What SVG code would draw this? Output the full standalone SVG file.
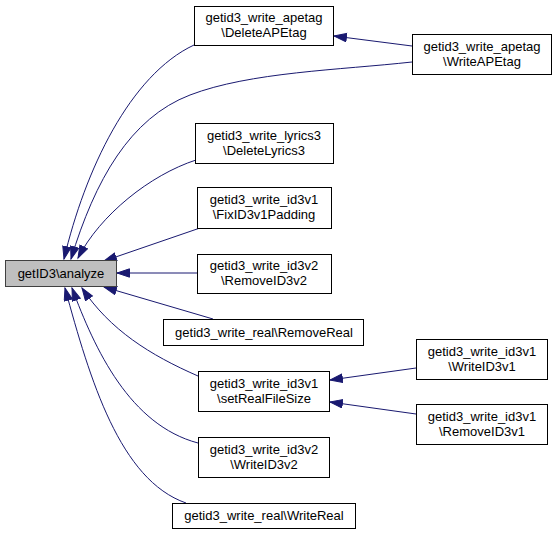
<svg xmlns="http://www.w3.org/2000/svg" width="556" height="534" viewBox="0 0 556 534">
<defs>
<marker id="ah" markerUnits="userSpaceOnUse" markerWidth="15" markerHeight="11" refX="13" refY="4.7" orient="auto">
<path d="M0.5,0.5 L13,4.7 L0.5,8.9 z" fill="#191970" stroke="#191970" stroke-width="1"/>
</marker>
<style>
.n rect{fill:#fff;stroke:#000;stroke-width:1}
.n text{font-family:"Liberation Sans",Arial,sans-serif;font-size:13px;fill:#000;text-anchor:middle}
#analyze rect{fill:#bfbfbf;stroke:#404040}
.e path{fill:none;stroke:#191970;stroke-width:1;marker-end:url(#ah)}
</style>
</defs>
<rect width="556" height="534" fill="#fff"/>
<g class="e" id="edges">
<path d="M194,45 C130,75 85,170 64,259"/>
<path d="M412,62 C340,70 250,72 190,95 C130,118 95,180 71,259"/>
<path d="M412,46 L334,36"/>
<path d="M196,160 C150,175 100,215 78,258"/>
<path d="M200,228 L104,261"/>
<path d="M197,273 L117,273"/>
<path d="M213,319 L104,287"/>
<path d="M198,376 C150,355 110,330 82,288"/>
<path d="M198,443 C130,425 95,350 72,288"/>
<path d="M186,503 C120,480 90,380 65,288"/>
<path d="M416,368 L330,380"/>
<path d="M416,414 L330,402"/>
</g>
<g class="n" id="analyze"><rect x="5.5" y="260.5" width="111" height="26"/><text x="61" y="278">getID3\analyze</text></g>
<g class="n" id="DeleteAPEtag"><rect x="194.5" y="6.5" width="139" height="39"/><text x="264" y="22">getid3_write_apetag</text><text x="264" y="37">\DeleteAPEtag</text></g>
<g class="n" id="WriteAPEtag"><rect x="412.5" y="34.5" width="139" height="40"/><text x="482" y="51">getid3_write_apetag</text><text x="482" y="66">\WriteAPEtag</text></g>
<g class="n" id="DeleteLyrics3"><rect x="195.5" y="123.5" width="138" height="40"/><text x="264" y="140">getid3_write_lyrics3</text><text x="264" y="155">\DeleteLyrics3</text></g>
<g class="n" id="FixID3v1Padding"><rect x="197.5" y="187.5" width="134" height="41"/><text x="264" y="204">getid3_write_id3v1</text><text x="264" y="219">\FixID3v1Padding</text></g>
<g class="n" id="RemoveID3v2"><rect x="197.5" y="254.5" width="134" height="39"/><text x="264" y="270">getid3_write_id3v2</text><text x="264" y="285">\RemoveID3v2</text></g>
<g class="n" id="RemoveReal"><rect x="163.5" y="319.5" width="200" height="26"/><text x="264" y="337">getid3_write_real\RemoveReal</text></g>
<g class="n" id="setRealFileSize"><rect x="198.5" y="371.5" width="131" height="40"/><text x="264" y="388">getid3_write_id3v1</text><text x="264" y="403">\setRealFileSize</text></g>
<g class="n" id="WriteID3v2"><rect x="198.5" y="437.5" width="131" height="40"/><text x="264" y="454">getid3_write_id3v2</text><text x="264" y="469">\WriteID3v2</text></g>
<g class="n" id="WriteReal"><rect x="172.5" y="503.5" width="183" height="25"/><text x="264" y="520">getid3_write_real\WriteReal</text></g>
<g class="n" id="WriteID3v1"><rect x="416.5" y="339.5" width="131" height="40"/><text x="482" y="356">getid3_write_id3v1</text><text x="482" y="371">\WriteID3v1</text></g>
<g class="n" id="RemoveID3v1"><rect x="416.5" y="404.5" width="131" height="40"/><text x="482" y="421">getid3_write_id3v1</text><text x="482" y="436">\RemoveID3v1</text></g>
</svg>
